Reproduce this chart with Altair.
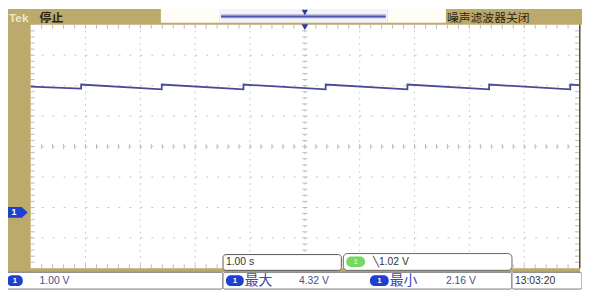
import altair as alt
import pandas as pd
import numpy as np

# ---------------- data ----------------
# CH1 trace vertices: time (s, trigger at 0) and voltage (V, ground marker = 0 V)
trace_t = [-5.0, -4.08, -4.08, -2.61, -2.61, -1.12, -1.12, 0.38, 0.38,
           1.87, 1.87, 3.36, 3.36, 4.84, 4.84, 5.0]
trace_v = [4.13, 4.07, 4.20, 4.04, 4.20, 4.04, 4.20, 4.04, 4.20,
           4.04, 4.20, 4.04, 4.20, 4.04, 4.20, 4.18]

major_t = [-4, -3, -2, -1, 0, 1, 2, 3, 4]

brand = "Tek"
status = "停止"
filter_text = "噪声滤波器关闭"
time_scale = "1.00 s"
trigger_text = "╲1.02 V"
ch1_scale = "1.00 V"
max_label, max_value = "最大", "4.32 V"
min_label, min_value = "最小", "2.16 V"
clock = "13:03:20"

# ---------------- layout (reference pixel coordinates) ----------------
OFF = 8
W, H = 582, 287
PX0, PX1 = 31, 587
PY0, PY1 = 23, 270
GY = 213.3  # ground marker position

def cx(x):
    return x - OFF

def cy(y):
    return y - OFF

DIVX = (PX1 - PX0) / 10
DIVY = (PY1 - PY0) / 8
t_lo = -5 - cx(PX0) / DIVX
t_hi = t_lo + W / DIVX
v_hi = (GY - OFF) / DIVY
v_lo = v_hi - H / DIVY

xs = alt.Scale(domain=[t_lo, t_hi], nice=False, zero=False)
ys = alt.Scale(domain=[v_lo, v_hi], nice=False, zero=False)

def vol_at(yref):
    return (GY - yref) / DIVY

one = alt.Data(values=[{"k": 0}])

TAN = "#bca96c"
CJK = "Noto Sans CJK SC"
LAT = "Liberation Sans"


def rect(x1, y1, x2, y2, fill, stroke=None, radius=0, sw=1):
    kw = dict(fill=fill, cornerRadius=radius)
    if stroke:
        kw.update(stroke=stroke, strokeWidth=sw)
    else:
        kw.update(strokeWidth=0)
    return alt.Chart(one).mark_rect(**kw).encode(
        x=alt.value(cx(x1)), x2=alt.value(cx(x2)),
        y=alt.value(cy(y1)), y2=alt.value(cy(y2)))


def text(x, y, s, size=10.5, color="#333333", font=LAT, weight="normal", align="left"):
    return alt.Chart(one).mark_text(
        text=s, align=align, baseline="middle", fontSize=size, font=font,
        fontWeight=weight, color=color).encode(x=alt.value(cx(x)), y=alt.value(cy(y)))


layers = []
# frame
layers.append(rect(5, 7, 588, 274, TAN))
layers.append(rect(5, 7, 590, 23, TAN))
layers.append(rect(PX0, PY0, PX1, PY1, "#ffffff"))

# graticule
vgrid = pd.DataFrame({"t": major_t})
layers.append(alt.Chart(vgrid).mark_rule(color="#c4c4c4", strokeWidth=1,
                                         strokeDash=[1.6, DIVY / 5 - 1.6]).encode(
    x=alt.X("t:Q", scale=xs, axis=None), y=alt.value(cy(PY0)), y2=alt.value(cy(PY1))))
hgrid = pd.DataFrame({"v": [vol_at(PY0 + k * DIVY) for k in range(1, 8)]})
layers.append(alt.Chart(hgrid).mark_rule(color="#c4c4c4", strokeWidth=1,
                                         strokeDash=[2, DIVX / 5 - 2]).encode(
    y=alt.Y("v:Q", scale=ys, axis=None), x=alt.value(cx(PX0)), x2=alt.value(cx(PX1))))

minor_t = pd.DataFrame({"t": [-5 + 0.2 * k for k in range(1, 50)]})
minor_v = pd.DataFrame({"v": [vol_at(PY0 + k * DIVY / 5) for k in range(1, 40)]})
cyc = PY0 + 4 * DIVY
tick_col = "#bababa"
for (a, b) in [(cyc - 2.5, cyc + 2.5), (PY0, PY0 + 4), (PY1 - 4, PY1)]:
    layers.append(alt.Chart(minor_t).mark_rule(color=tick_col, strokeWidth=1).encode(
        x=alt.X("t:Q", scale=xs, axis=None), y=alt.value(cy(a)), y2=alt.value(cy(b))))
cxc = PX0 + 5 * DIVX
for (a, b) in [(cxc - 2.5, cxc + 2.5), (PX0, PX0 + 4), (PX1 - 4, PX1)]:
    layers.append(alt.Chart(minor_v).mark_rule(color=tick_col, strokeWidth=1).encode(
        y=alt.Y("v:Q", scale=ys, axis=None), x=alt.value(cx(a)), x2=alt.value(cx(b))))

# right border line
layers.append(rect(PX1, PY0, PX1 + 1.5, PY1, "#5d4d2c"))

# trace
trace = pd.DataFrame({"t": trace_t, "v": trace_v, "i": list(range(len(trace_t)))})
layers.append(alt.Chart(trace).mark_line(color="#484a94", strokeWidth=1.8).encode(
    x=alt.X("t:Q", scale=xs, axis=None), y=alt.Y("v:Q", scale=ys, axis=None),
    order="i:Q"))

# trigger position marker (t = 0)
trig = pd.DataFrame({"t": [0]})
layers.append(alt.Chart(trig).mark_point(shape="triangle-down", filled=True, size=45,
                                         color="#2c3a96", opacity=1).encode(
    x=alt.X("t:Q", scale=xs, axis=None), y=alt.value(cy(25.5))))

# top status bar
layers.append(text(9, 16, brand, size=12, color="#efe7c8", weight="bold"))
layers.append(text(40, 16, status, size=12, color="#2b2614", font=CJK, weight="bold"))
layers.append(rect(163, 7, 222, 21, "#fffdf6"))
layers.append(rect(222, 7, 393, 21, "#f3f3f7"))
layers.append(rect(224, 12.5, 391, 16.5, "#8d92cc"))
layers.append(rect(224, 14, 391, 15, "#4a52a8"))
layers.append(alt.Chart(trig).mark_point(shape="triangle-down", filled=True, size=40,
                                         color="#2c3a96", opacity=1).encode(
    x=alt.X("t:Q", scale=xs, axis=None), y=alt.value(cy(10.5))))
layers.append(rect(393, 7, 452, 21, "#fffdf6"))
layers.append(text(453, 16, filter_text, size=12, color="#2b2614", font=CJK))

# ground marker (0 V)
gnd = pd.DataFrame({"v": [0.0]})
layers.append(alt.Chart(gnd).mark_point(
    shape="M-1,-0.5L0.45,-0.5L1,0L0.45,0.5L-1,0.5Z", filled=True, size=484,
    color="#1f3fd0", opacity=1).encode(
    y=alt.Y("v:Q", scale=ys, axis=None), x=alt.value(cx(17))))
layers.append(alt.Chart(gnd).mark_text(text="1", fontSize=9, font=LAT, fontWeight="bold",
                                       color="#ffffff", baseline="middle").encode(
    y=alt.Y("v:Q", scale=ys, axis=None), x=alt.value(cx(14))))

# overlay readouts on graticule
layers.append(rect(226, 256, 346, 272, "#ffffff", "#555555", 3))
layers.append(text(229, 264, time_scale, size=10.5))
layers.append(rect(348, 255, 519, 272, "#ffffff", "#666666", 4))
layers.append(rect(351, 258, 370, 268.5, "#74d960", radius=5))
layers.append(text(360.5, 263.5, "1", size=8, color="#c8f3bd", weight="bold", align="center"))
layers.append(text(378, 264, trigger_text, size=10.5, color="#333333"))

# bottom readout row
layers.append(rect(5, 274, 226, 291, "#ffffff", "#777777", 2))
layers.append(rect(226, 274, 519, 291, "#ffffff", "#777777", 2))
layers.append(rect(519, 274, 590, 291, "#ffffff", "#777777", 2))


def pill(x1, x2, y1=277, y2=288):
    return [rect(x1, y1, x2, y2, "#1f3fd0", radius=5),
            text((x1 + x2) / 2, (y1 + y2) / 2, "1", size=8, color="#ffffff",
                 weight="bold", align="center")]

layers += pill(7, 23)
layers.append(text(40, 283, ch1_scale, size=10.5, color="#4a4e8c"))
layers += pill(229, 247)
layers.append(text(248, 283, max_label, size=14, color="#3c47b2", font=CJK))
layers.append(text(303, 283, max_value, size=10.5, color="#4a4e8c"))
layers += pill(375, 394)
layers.append(text(395, 283, min_label, size=14, color="#3c47b2", font=CJK))
layers.append(text(452, 283, min_value, size=10.5, color="#4a4e8c"))
layers.append(text(522, 283, clock, size=10.5, color="#333333"))

chart = alt.layer(*layers).properties(
    width=W, height=H, padding=0, autosize=alt.AutoSizeParams(type="none"),
    background="#ffffff"
).configure_view(stroke=None)

chart.save("out.html", embed_options={"renderer": "svg", "actions": False})
